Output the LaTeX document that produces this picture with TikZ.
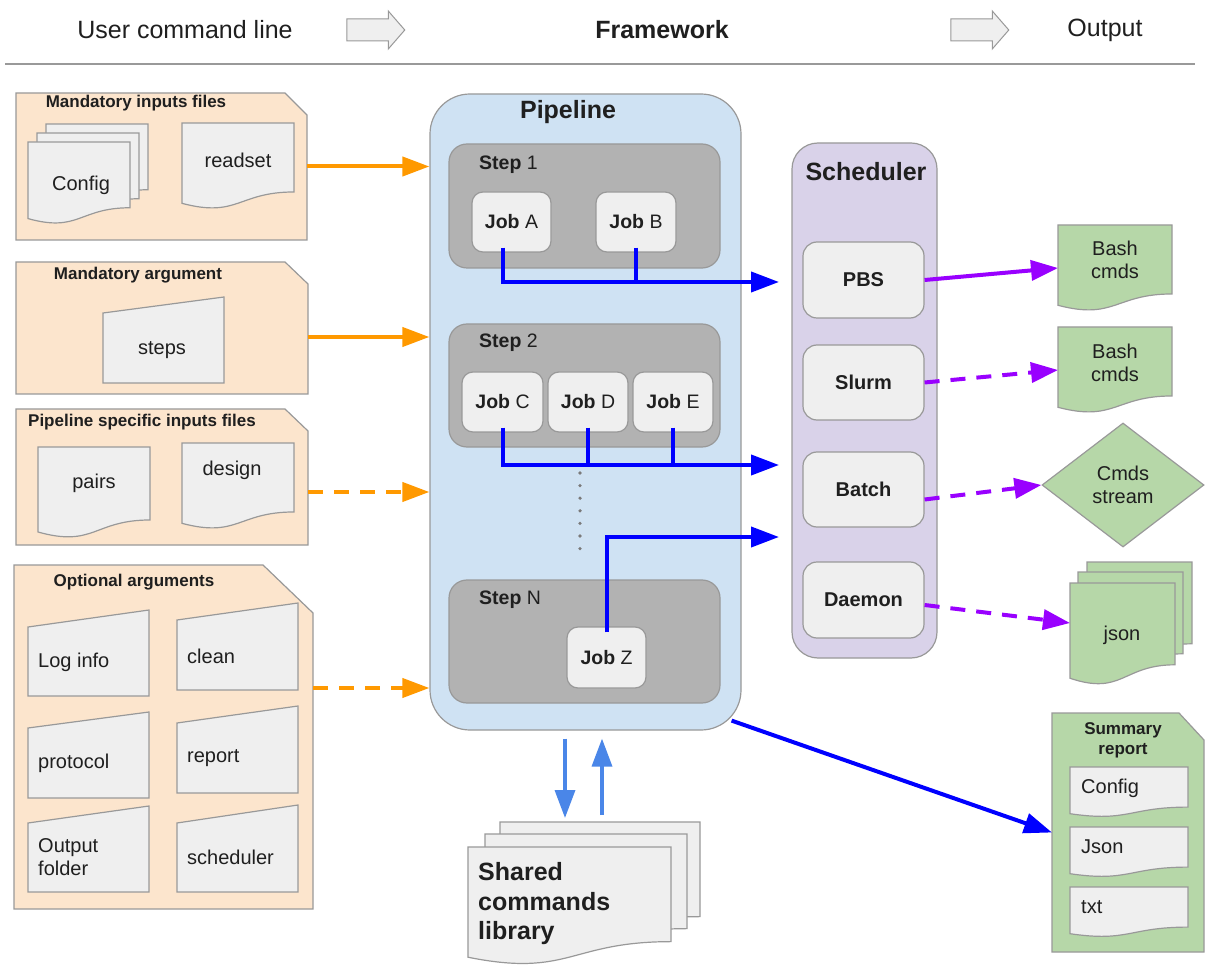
\documentclass[tikz,border=0pt]{standalone}
\usepackage{fontspec}
\setmainfont{Liberation Sans}
\usetikzlibrary{arrows.meta,calc,shapes.geometric,shapes.arrows}

\definecolor{panelor}{HTML}{FCE5CD}
\definecolor{bordg}{HTML}{999999}
\definecolor{docg}{HTML}{EFEFEF}
\definecolor{pipeb}{HTML}{CFE2F3}
\definecolor{stepg}{HTML}{B2B2B2}
\definecolor{lav}{HTML}{D9D2E9}
\definecolor{grn}{HTML}{B6D7A8}
\definecolor{orng}{HTML}{FF9900}
\definecolor{purp}{HTML}{9900FF}
\definecolor{blu}{HTML}{0000FF}
\definecolor{lblu}{HTML}{4A86E8}
\definecolor{txt}{HTML}{1F1F1F}

\newcommand\fsH{\fontsize{25}{29}\selectfont}
\newcommand\fsM{\fontsize{20}{23.5}\selectfont}
\newcommand\fsJ{\fontsize{19.5}{23}\selectfont}
\newcommand\fsS{\fontsize{17}{20}\selectfont}

% cut-corner panel: style, name, x0, y0, x1, y1, cutx, cuty
\newcommand\cutbox[8]{%
  \path[#1] (#3,#4) -- ({#5-#7},#4) -- (#5,{#4+#8}) -- (#5,#6) -- (#3,#6) -- cycle;
  \node[holder, minimum width={#5-#3}, minimum height={#6-#4}] (#2) at ({(#3+#5)/2},{(#4+#6)/2}) {};}
% document shape: style, name, x0, y0, x1, y1
\newcommand\docbox[6]{%
  \path[#1] (#3,#4) -- (#5,#4) -- (#5,{#4+0.802*(#6-#4)})
    .. controls ({(#3+#5)/2},{#4+0.802*(#6-#4)}) and ({(#3+#5)/2},{#4+1.107*(#6-#4)}) ..
    (#3,{#4+0.934*(#6-#4)}) -- cycle;
  \node[holder, minimum width={#5-#3}, minimum height={#6-#4}] (#2) at ({(#3+#5)/2},{(#4+#6)/2}) {};}
% manual input: style, name, x0, yTL, x1, yTR, yb
\newcommand\manbox[7]{%
  \path[#1] (#3,#4) -- (#5,#6) -- (#5,#7) -- (#3,#7) -- cycle;
  \node[holder, minimum width={#5-#3}, minimum height={#7-#6}] (#2) at ({(#3+#5)/2},{(#6+#7)/2}) {};}

\tikzset{
  holder/.style={inner sep=0, outer sep=0, draw=none},
  lbl/.style={inner sep=0, text=txt, align=center},
  lbll/.style={inner sep=0, text=txt, anchor=west, align=left},
  panelst/.style={fill=panelor, draw=bordg, line width=1.2pt},
  docst/.style={fill=docg, draw=bordg, line width=1.2pt},
  grst/.style={fill=grn, draw=bordg, line width=1.2pt},
  pipest/.style={fill=pipeb, draw=bordg, line width=1.2pt, rounded corners=40pt, inner sep=0},
  stepst/.style={fill=stepg, draw=bordg, line width=1.2pt, rounded corners=18pt, inner sep=0},
  jobst/.style={fill=docg, draw=bordg, line width=1.2pt, rounded corners=11pt, inner sep=0, text=txt, font=\fsJ},
  schst/.style={fill=lav, draw=bordg, line width=1.2pt, rounded corners=26pt, inner sep=0},
  schjob/.style={fill=docg, draw=bordg, line width=1.2pt, rounded corners=14pt, inner sep=0, text=txt, font=\fsM\bfseries},
  hdrarrow/.style={single arrow, draw=bordg, fill=docg, line width=1pt, minimum height=58pt, inner xsep=0pt, inner ysep=10.5pt, single arrow head extend=8pt, single arrow tip angle=98},
  oarr/.style={draw=orng, line width=4pt, -{Triangle[length=27pt,width=19pt]}},
  odash/.style={oarr, dash pattern=on 15pt off 11pt},
  barr/.style={draw=blu, line width=4pt, -{Triangle[length=28pt,width=20pt]}},
  bline/.style={draw=blu, line width=4pt},
  parr/.style={draw=purp, line width=4pt, -{Triangle[length=27pt,width=20pt]}},
  pdash/.style={parr, dash pattern=on 15pt off 11pt},
  lbarr/.style={draw=lblu, line width=3.5pt, -{Triangle[length=28pt,width=20pt]}},
}

\begin{document}
\begin{tikzpicture}[x=1pt,y=-1pt]
\useasboundingbox (0,0) rectangle (1205,965);
\fill[white] (0,0) rectangle (1205,965);

% ---------- header ----------
\node[lbl, font=\fsH] (hUser) at (185,30) {User command line};
\node[hdrarrow] (ha1) at (371,30) {};
\node[lbl, font=\fsH\bfseries] (hFw) at (662,30) {Framework};
\node[hdrarrow] (ha2) at (975,30) {};
\node[lbl, font=\fsH] (hOut) at (1105,30) {Output};
\draw[draw=bordg, line width=1.5pt] (5,64) -- (1195,64);

% ---------- left panels ----------
\cutbox{panelst}{p1}{16}{93}{307}{240}{22}{22}
\node[lbl, font=\fsS\bfseries] (p1t) at (136,103) {Mandatory inputs files};
\docbox{docst}{cfgc}{46}{124}{148}{206}
\docbox{docst}{cfgb}{37}{133}{139}{215}
\docbox{docst}{cfga}{28}{142}{130}{224}
\node[lbl, font=\fsM] (cfgt) at (81,185) {Config};
\docbox{docst}{rds}{182}{123}{294}{209}
\node[lbl, font=\fsM] (rdst) at (238,160) {readset};

\cutbox{panelst}{p2}{16}{262}{308}{394}{23}{22}
\node[lbl, font=\fsS\bfseries] (p2t) at (138,275) {Mandatory argument};
\manbox{docst}{stp}{103}{313}{224}{297}{383}
\node[lbl, font=\fsM] (stpt) at (162,350) {steps};

\cutbox{panelst}{p3}{16}{409}{308}{545}{23}{22}
\node[lbl, font=\fsS\bfseries] (p3t) at (142,422) {Pipeline specific inputs files};
\docbox{docst}{prs}{38}{447}{150}{538}
\node[lbl, font=\fsM] (prst) at (94,483) {pairs};
\docbox{docst}{dsg}{182}{443}{294}{529}
\node[lbl, font=\fsM] (dsgt) at (232,470) {design};

\cutbox{panelst}{p4}{14}{565}{313}{909}{50}{48}
\node[lbl, font=\fsS\bfseries] (p4t) at (134,582) {Optional arguments};
\manbox{docst}{oLog}{28}{627}{149}{610}{696}
\manbox{docst}{oCln}{177}{620}{298}{603}{690}
\manbox{docst}{oPro}{28}{728}{149}{712}{798}
\manbox{docst}{oRep}{177}{723}{298}{706}{793}
\manbox{docst}{oOut}{28}{823}{149}{806}{892}
\manbox{docst}{oSch}{177}{823}{298}{805}{892}
\node[lbll, font=\fsM] (oLogt) at (38,662) {Log info};
\node[lbll, font=\fsM] (oClnt) at (187,656) {clean};
\node[lbll, font=\fsM] (oProt) at (38,763) {protocol};
\node[lbll, font=\fsM] (oRept) at (187,758) {report};
\node[lbll, font=\fsM] (oOutt) at (38,857) {Output\\folder};
\node[lbll, font=\fsM] (oScht) at (187,857) {scheduler};

% ---------- pipeline ----------
\node[pipest, minimum width=311, minimum height=636] (pipe) at (585.5,412) {};
\node[lbl, font=\fsH\bfseries] (pipet) at (568,112) {Pipeline};

\node[stepst, minimum width=271, minimum height=124] (s1) at (584.5,206) {};
\node[lbll, font=\fsJ] (s1t) at (479,165) {\textbf{Step} 1};
\node[stepst, minimum width=271, minimum height=123] (s2) at (584.5,385.5) {};
\node[lbll, font=\fsJ] (s2t) at (479,343) {\textbf{Step} 2};
\node[stepst, minimum width=271, minimum height=123] (sN) at (584.5,641.5) {};
\node[lbll, font=\fsJ] (sNt) at (479,600) {\textbf{Step} N};

\node[jobst, minimum width=79, minimum height=60] (jA) at (511.5,222) {\textbf{Job} A};
\node[jobst, minimum width=80, minimum height=60] (jB) at (636,222) {\textbf{Job} B};
\node[jobst, minimum width=81, minimum height=60] (jC) at (502.5,402) {\textbf{Job} C};
\node[jobst, minimum width=80, minimum height=60] (jD) at (588,402) {\textbf{Job} D};
\node[jobst, minimum width=80, minimum height=60] (jE) at (673,402) {\textbf{Job} E};
\node[jobst, minimum width=79, minimum height=61] (jZ) at (606.5,657.5) {\textbf{Job} Z};

\foreach \i in {0,...,6} \fill[bordg!80!black] (580,{473+12.6*\i}) circle (1.8);

% ---------- scheduler ----------
\node[schst, minimum width=145, minimum height=515] (sch) at (864.5,400.5) {};
\node[lbl, font=\fsH\bfseries] (scht) at (866,172) {Scheduler};
\node[schjob, minimum width=121, minimum height=76] (pbs) at (863.5,280) {PBS};
\node[schjob, minimum width=121, minimum height=75] (slurm) at (863.5,382.5) {Slurm};
\node[schjob, minimum width=121, minimum height=75] (batch) at (863.5,489.5) {Batch};
\node[schjob, minimum width=121, minimum height=76] (daemon) at (863.5,600) {Daemon};

\coordinate (t1) at (779,282);
\coordinate (t2) at (779,465);
\coordinate (t3) at (779,537);
\draw[barr] ([xshift=-8.5pt,yshift=5pt]jA.south) |- (t1);
\draw[bline] ([yshift=5pt]jB.south) -- (jB.south |- t1);
\draw[barr] ([yshift=5pt]jC.south) |- (t2);
\draw[bline] ([yshift=5pt]jD.south) -- (jD.south |- t2);
\draw[bline] ([yshift=5pt]jE.south) -- (jE.south |- t2);
\draw[barr] ([yshift=-6pt]jZ.north) |- (t3);

% ---------- outputs ----------
\docbox{grst}{bash1}{1058}{225}{1172}{311}
\node[lbl, font=\fsM] (bash1t) at (1115,260) {Bash\\cmds};
\docbox{grst}{bash2}{1058}{327}{1172}{413}
\node[lbl, font=\fsM] (bash2t) at (1115,363) {Bash\\cmds};
\node[diamond, grst, aspect=1.31, minimum width=162, minimum height=124, inner sep=0, font=\fsM, text=txt, align=center] (strm) at (1123,485) {Cmds\\stream};
\docbox{grst}{jsc}{1087}{562}{1192}{664}
\docbox{grst}{jsb}{1078}{572}{1183}{674}
\docbox{grst}{json}{1070}{583}{1175}{685}
\node[lbl, font=\fsM] (jsont) at (1122,635) {json};

\cutbox{grst}{summ}{1052}{713}{1204}{952}{25}{27}
\node[lbl, font=\fsS\bfseries] (summt) at (1123,740) {Summary\\report};
\docbox{docst}{sCfg}{1070}{767}{1188}{817}
\node[lbll, font=\fsM] (sCfgt) at (1081,788) {Config};
\docbox{docst}{sJsn}{1070}{827}{1188}{877}
\node[lbll, font=\fsM] (sJsnt) at (1081,847) {Json};
\docbox{docst}{sTxt}{1070}{887}{1188}{937}
\node[lbll, font=\fsM] (sTxtt) at (1081,907) {txt};

% ---------- library ----------
\docbox{docst}{libc}{500}{822}{700}{940}
\docbox{docst}{libb}{485}{834}{687}{952}
\docbox{docst}{liba}{468}{847}{671}{965}
\node[holder, minimum width=232, minimum height=143] (lib) at (584,893.5) {};
\node[lbll, font=\fontsize{25}{29.5}\selectfont\bfseries] (libt) at (478,904) {Shared\\commands\\library};

% ---------- connectors ----------
\draw[oarr] (p1.east) -- (p1.east -| pipe.west);
\draw[oarr] ([yshift=-9pt]p2.east) coordinate (o2) -- (o2 -| pipe.west);
\draw[odash] ([yshift=-15pt]p3.east) coordinate (o3) -- (o3 -| pipe.west);
\draw[odash] ([yshift=49pt]p4.east) coordinate (o4) -- (o4 -| pipe.west);

\draw[parr] (pbs.east) -- (bash1.west);
\draw[pdash] (slurm.east) -- (bash2.west);
\draw[pdash] ([yshift=-10pt]batch.east) -- (strm.west);
\draw[pdash] ([yshift=-5pt]daemon.east) -- ([yshift=11pt]json.west);

\draw[barr] ([xshift=-10pt,yshift=10pt]pipe.south east) -- (summ.west);

\draw[lbarr] ($(pipe.south)+(-20.5,8)$) -- ($(lib.north)+(-19,-4)$);
\draw[lbarr] ($(lib.north)+(18,-7)$) -- ($(pipe.south)+(16.5,8)$);
\end{tikzpicture}
\end{document}
